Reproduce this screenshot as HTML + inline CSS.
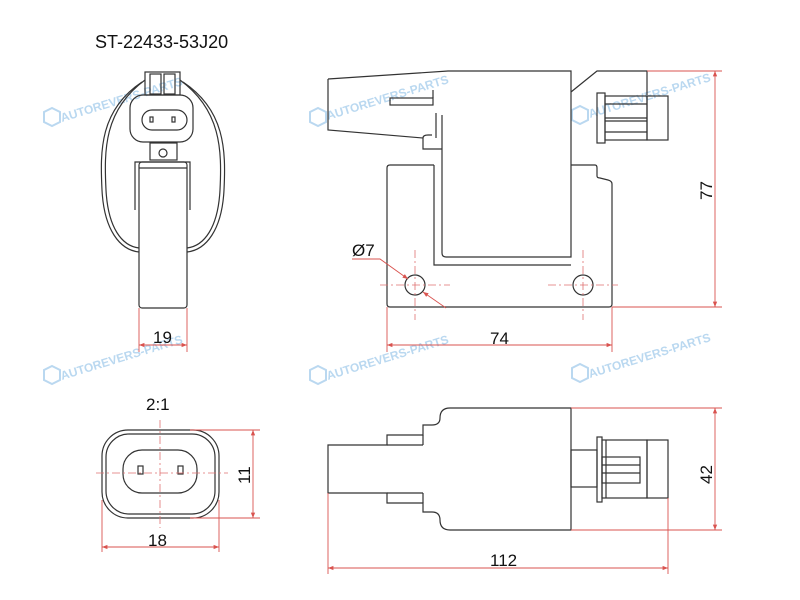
<!DOCTYPE html>
<html><head><style>
body{margin:0;background:#fff;}
svg{display:block;font-family:"Liberation Sans",sans-serif;}
.k{fill:none;stroke:#333;stroke-width:1.2}
.r{fill:none;stroke:#d9534f;stroke-width:0.9}
.d{fill:none;stroke:#e07070;stroke-width:0.8;stroke-dasharray:8 3 2 3}
.t{font-size:17px;fill:#111}
.w{font-size:12px;fill:#9cc8ea;font-weight:bold;opacity:0.7}
</style></head><body>
<svg width="800" height="600" viewBox="0 0 800 600">
<defs>
<marker id="a" viewBox="0 0 10 10" refX="10" refY="5" markerWidth="9" markerHeight="6" orient="auto-start-reverse"><path d="M0,1 L10,5 L0,9z" fill="#d9534f"/></marker>
</defs>
<text x="95" y="48" style="font-size:18px;fill:#111">ST-22433-53J20</text>

<!-- watermarks -->
<g class="w">
<text transform="translate(62,122) rotate(-17)">AUTOREVERS-PARTS</text>
<text transform="translate(328,120) rotate(-17)">AUTOREVERS-PARTS</text>
<text transform="translate(590,118) rotate(-17)">AUTOREVERS-PARTS</text>
<text transform="translate(62,380) rotate(-17)">AUTOREVERS-PARTS</text>
<text transform="translate(328,380) rotate(-17)">AUTOREVERS-PARTS</text>
<text transform="translate(590,378) rotate(-17)">AUTOREVERS-PARTS</text>
</g>
<g fill="none" stroke="#9cc8ea" stroke-width="2" opacity="0.7">
<polygon points="52,108 60,112 60,122 52,126 44,122 44,112"/>
<polygon points="318,108 326,112 326,122 318,126 310,122 310,112"/>
<polygon points="580,106 588,110 588,120 580,124 572,120 572,110"/>
<polygon points="52,366 60,370 60,380 52,384 44,380 44,370"/>
<polygon points="318,366 326,370 326,380 318,384 310,380 310,370"/>
<polygon points="580,364 588,368 588,378 580,382 572,378 572,368"/>
</g>

<!-- Left top view -->
<g class="k">
<rect x="145" y="72" width="35" height="23"/>
<rect x="150" y="74" width="11" height="20"/><rect x="164" y="74" width="11" height="20"/>
<path d="M142,82 C100,110 100,150 102,190 C104,230 120,250 139,252"/>
<path d="M145,80 C104,110 104,150 106,190 C108,228 122,246 139,248"/>
<path d="M183,82 C225,110 226,150 224,190 C222,230 206,250 187,252"/>
<path d="M180,80 C221,110 222,150 220,190 C218,228 204,246 187,248"/>
<rect x="130" y="95" width="63" height="47" rx="13"/>
<rect x="142" y="110" width="45" height="20" rx="10"/>
<rect x="150" y="117" width="3" height="5"/><rect x="172" y="117" width="3" height="5"/>
<rect x="150" y="143" width="27" height="17"/>
<circle cx="163" cy="153" r="4"/>
<path d="M135,210 L135,162 L190,162 L190,210"/>
<path d="M139,168 L187,168"/>
<rect x="139" y="162" width="48" height="146" rx="3"/>
</g>
<g class="r"><line x1="139" y1="308" x2="139" y2="352"/><line x1="187" y1="308" x2="187" y2="352"/>
<line x1="139" y1="345" x2="187" y2="345" marker-start="url(#a)" marker-end="url(#a)"/></g>
<text x="153" y="343" class="t">19</text>

<!-- Main top view -->
<g class="k">
<path d="M328,79 L448,71 L571,71 L571,257 L446,257 Q442,257 442,253 L442,115"/>
<path d="M328,79 L328,130 L423,138 L423,149 L442,149"/>
<path d="M423,138 Q423,135 428,135 L432,135"/>
<path d="M436,113 L436,138"/>
<path d="M433,90 L433,98"/>
<rect x="390" y="98" width="43" height="7"/>
<path d="M571,92 L597,71 L647,71 L647,95"/>
<path d="M387,168 Q387,165 390,165 L434,165 M571,165 L595,165 Q597,165 597,168 L597,176 Q597,178 600,178 L608,180 Q612,181 612,184 L612,304 Q612,307 609,307 L390,307 Q387,307 387,304 L387,168"/>
<path d="M434,165 L434,265 L571,265"/>
<rect x="597" y="93" width="8" height="50"/>
<rect x="605" y="96" width="42" height="44"/>
<line x1="605" y1="104" x2="647" y2="104"/><line x1="605" y1="118" x2="647" y2="118"/><line x1="605" y1="121" x2="647" y2="121"/><line x1="605" y1="132" x2="647" y2="132"/>
<rect x="647" y="96" width="21" height="44"/>
<circle cx="415" cy="285" r="10"/><circle cx="583" cy="285" r="10"/>
</g>
<g class="d"><line x1="380" y1="285" x2="450" y2="285"/><line x1="415" y1="250" x2="415" y2="320"/>
<line x1="548" y1="285" x2="618" y2="285"/><line x1="583" y1="250" x2="583" y2="320"/></g>
<g class="r">
<line x1="647" y1="71" x2="722" y2="71"/><line x1="612" y1="307" x2="722" y2="307"/>
<line x1="715" y1="71" x2="715" y2="307" marker-start="url(#a)" marker-end="url(#a)"/>
<line x1="387" y1="307" x2="387" y2="352"/><line x1="612" y1="307" x2="612" y2="352"/>
<line x1="387" y1="345" x2="612" y2="345" marker-start="url(#a)" marker-end="url(#a)"/>
<path d="M352,259 L380,259 L408,279" marker-end="url(#a)"/>
<line x1="446" y1="308" x2="423" y2="292" marker-end="url(#a)"/>
</g>
<text x="352" y="256" class="t">Ø7</text>
<text x="490" y="344" class="t">74</text>
<text transform="translate(712,200) rotate(-90)" class="t">77</text>

<!-- Connector 2:1 -->
<text x="146" y="410" class="t">2:1</text>
<g class="k">
<rect x="102" y="430" width="117" height="88" rx="26"/>
<rect x="106" y="434" width="109" height="80" rx="23"/>
<rect x="123" y="450" width="74" height="43" rx="19"/>
<rect x="138" y="466" width="5" height="8"/><rect x="178" y="466" width="5" height="8"/>
</g>
<g class="d"><line x1="160" y1="420" x2="160" y2="528"/><line x1="96" y1="473" x2="228" y2="473"/></g>
<g class="r">
<line x1="190" y1="430" x2="260" y2="430"/><line x1="190" y1="518" x2="260" y2="518"/>
<line x1="253" y1="430" x2="253" y2="518" marker-start="url(#a)" marker-end="url(#a)"/>
<line x1="102" y1="500" x2="102" y2="552"/><line x1="219" y1="500" x2="219" y2="552"/>
<line x1="102" y1="547" x2="219" y2="547" marker-start="url(#a)" marker-end="url(#a)"/>
</g>
<text x="148" y="546" class="t">18</text>
<text transform="translate(250,484) rotate(-90)" class="t">11</text>

<!-- Bottom view -->
<g class="k">
<path d="M450,408 L571,408 L571,530 L450,530 Q440,530 440,520 Q440,512 432,512 L423,512 L423,503 L387,503 L387,493 L328,493 L328,445 L387,445 L387,435 L423,435 L423,425 L432,425 Q440,425 440,418 Q440,408 450,408Z"/>
<line x1="387" y1="445" x2="423" y2="445"/><line x1="423" y1="435" x2="423" y2="445"/>
<line x1="387" y1="493" x2="423" y2="493"/><line x1="423" y1="493" x2="423" y2="503"/>
<rect x="571" y="450" width="26" height="37"/>
<rect x="597" y="437" width="5" height="65"/>
<rect x="602" y="440" width="45" height="58"/>
<line x1="606" y1="440" x2="606" y2="498"/>
<rect x="602" y="457" width="38" height="26"/>
<line x1="602" y1="465" x2="640" y2="465"/><line x1="602" y1="473" x2="640" y2="473"/>
<rect x="647" y="440" width="21" height="58"/>
</g>
<g class="r">
<line x1="571" y1="408" x2="722" y2="408"/><line x1="571" y1="530" x2="722" y2="530"/>
<line x1="715" y1="408" x2="715" y2="530" marker-start="url(#a)" marker-end="url(#a)"/>
<line x1="328" y1="493" x2="328" y2="574"/><line x1="668" y1="498" x2="668" y2="574"/>
<line x1="328" y1="568" x2="668" y2="568" marker-start="url(#a)" marker-end="url(#a)"/>
</g>
<text x="490" y="566" class="t">112</text>
<text transform="translate(712,484) rotate(-90)" class="t">42</text>
</svg>
</body></html>
